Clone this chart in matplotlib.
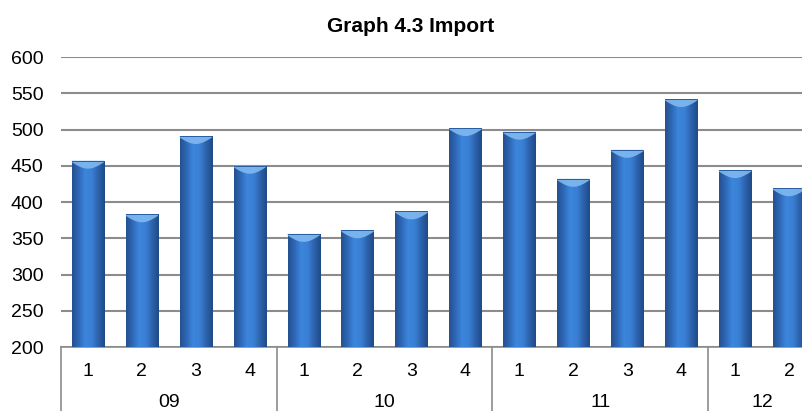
import numpy as np
import matplotlib.pyplot as plt
from matplotlib.colors import LinearSegmentedColormap
from matplotlib.patches import Polygon
import matplotlib.transforms as mtransforms

plt.rcParams['font.family'] = ['Liberation Sans', 'DejaVu Sans']

# data
years = ['09', '10', '11', '12']
quarters_per_year = [4, 4, 4, 2]
quarter_labels = ['1', '2', '3', '4', '1', '2', '3', '4', '1', '2', '3', '4', '1', '2']
imports = [457, 383, 491, 450, 356, 361, 387, 502, 497, 432, 472, 542, 444, 419]

W, H = 802, 411
fig = plt.figure(figsize=(W / 100, H / 100), dpi=100)
ax = fig.add_axes([61 / W, 1 - 347 / H, (816 - 61) / W, (347 - 57) / H])

x = np.arange(len(imports))
bars = ax.bar(x, [v - 200 for v in imports], bottom=200, width=0.6, color='#2f6cc0',
              edgecolor='none', zorder=3)

# cylinder-ish shading across each bar
cyl = LinearSegmentedColormap.from_list('cyl', ['#24508f', '#2f69b8', '#3c86dc', '#3a80d4', '#2d63ad', '#1f4a86'])
grad = np.linspace(0, 1, 64).reshape(1, -1)
t = np.linspace(0, 1, 21)
for b in bars:
    x0, y0 = b.get_x(), b.get_y()
    bw, bh = b.get_width(), b.get_height()
    im = ax.imshow(grad, cmap=cyl, aspect='auto', extent=[x0, x0 + bw, y0, y0 + bh], zorder=4)
    im.set_clip_path(b)
    # light bevel at the top, curved dip toward the middle
    top = y0 + bh
    dip = top - 2 - 9 * np.sin(np.pi * t)
    pts = [[x0, top]] + [[x0 + bw * ti, di] for ti, di in zip(t, dip)] + [[x0 + bw, top]]
    ax.add_patch(Polygon(pts, closed=True, facecolor='#80b9f0', edgecolor='none',
                         alpha=0.9, zorder=5))
    ax.add_patch(Polygon([[x0, top], [x0 + bw, top], [x0 + bw, top - 1.2], [x0, top - 1.2]],
                         closed=True, facecolor='#2a5ea5', edgecolor='none', zorder=6))

ax.set_xlim(-0.5, len(imports) - 0.5)
ax.set_ylim(200, 600)
ax.set_yticks(range(200, 601, 50))
ax.yaxis.grid(True, color='#8c8c8c', linewidth=1.5, zorder=0)
ax.set_axisbelow(True)
ax.tick_params(axis='y', length=0, pad=12.5, labelsize=14)
ax.set_xticks([])
for s in ['left', 'right', 'top']:
    ax.spines[s].set_visible(False)
ax.spines['bottom'].set_color('#8c8c8c')
ax.spines['bottom'].set_linewidth(1.2)

# two-level category axis
trans = mtransforms.blended_transform_factory(ax.transData, ax.transAxes)
for xi, q in zip(x, quarter_labels):
    ax.text(xi, -0.083, q, transform=trans, ha='center', va='center', fontsize=14)
start = 0
bounds = [-0.5]
for yr, n in zip(years, quarters_per_year):
    ax.text(start + (n - 1) / 2, -0.19, yr, transform=trans, ha='center', va='center', fontsize=14)
    start += n
    bounds.append(start - 0.5)
for bx in bounds:
    ax.plot([bx, bx], [0, -0.25], transform=trans, color='#8c8c8c', linewidth=1.2, clip_on=False)

fig.text(411 / W, 1 - 27 / H, 'Graph 4.3 Import', ha='center', va='center', fontsize=15,
         fontweight='bold')

fig.savefig('out.png', dpi=100)
